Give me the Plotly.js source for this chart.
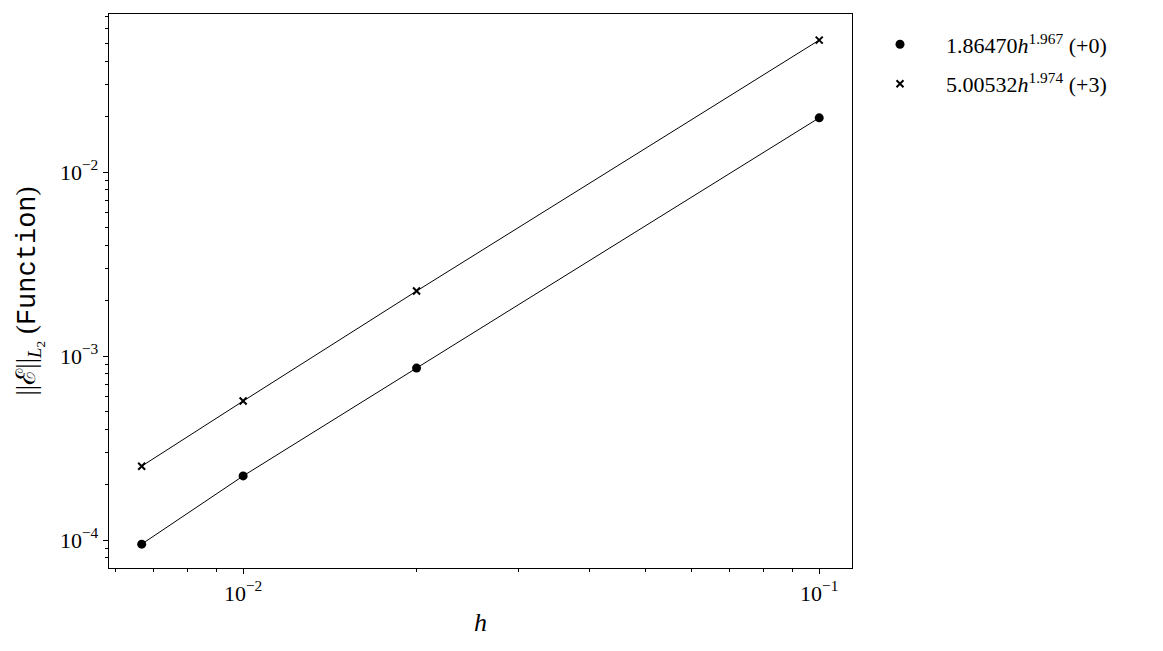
<!DOCTYPE html>
<html>
<head>
<meta charset="utf-8">
<script src="https://cdn.plot.ly/plotly-3.0.1.min.js"></script>
<style>html,body{margin:0;padding:0;background:#fff;}#chart{width:1163px;height:651px;}</style>
</head>
<body>
<div id="chart"></div>
<script>
const h = [0.0066667, 0.01, 0.02, 0.1];
const errA = [9.5e-5, 2.23e-4, 8.6e-4, 0.0197];
const errB = [2.52e-4, 5.69e-4, 2.254e-3, 0.0521];
const nameA = "1.86470<i>h</i><sup>1.967</sup> (+0)";
const nameB = "5.00532<i>h</i><sup>1.974</sup> (+3)";
const xTickVals = [0.01, 0.1];
const xTickText = ["10<sup>−2</sup>", "10<sup>−1</sup>"];
const yTickVals = [1e-4, 1e-3, 1e-2];
const yTickText = ["10<sup>−4</sup>", "10<sup>−3</sup>", "10<sup>−2</sup>"];
const xMinor = [0.006, 0.007, 0.008, 0.009, 0.02, 0.03, 0.04, 0.05, 0.06, 0.07, 0.08, 0.09];
const yMinor = [8e-5, 9e-5, 2e-4, 3e-4, 4e-4, 5e-4, 6e-4, 7e-4, 8e-4, 9e-4,
  2e-3, 3e-3, 4e-3, 5e-3, 6e-3, 7e-3, 8e-3, 9e-3, 2e-2, 3e-2, 4e-2, 5e-2, 6e-2, 7e-2];

const serif = "Liberation Serif, DejaVu Serif, serif";

const traces = [
  {x: h, y: errA, mode: "lines", type: "scatter", showlegend: false,
   line: {color: "#000", width: 1}},
  {x: h, y: errB, mode: "lines", type: "scatter", showlegend: false,
   line: {color: "#000", width: 1}},
  {x: h, y: errA, name: nameA, legendgroup: "a", mode: "markers", type: "scatter",
   marker: {symbol: "circle", size: 9, color: "#000"}},
  {x: h, y: errB, name: nameB, legendgroup: "b", mode: "markers", type: "scatter",
   marker: {symbol: "x-thin-open", size: 7, color: "#000", line: {color: "#000", width: 2}}}
];

function axisBase() {
  return {
    type: "log", showgrid: false, zeroline: false, showline: true, mirror: true,
    linecolor: "#000", linewidth: 1.3, ticks: "outside", ticklen: 5, tickwidth: 1,
    tickcolor: "#000", tickmode: "array",
    tickfont: {family: serif, size: 22, color: "#000"}
  };
}

const xaxis = axisBase();
xaxis.range = [Math.log10(0.00585), Math.log10(0.114)];
xaxis.tickvals = xTickVals;
xaxis.ticktext = xTickText;
xaxis.minor = {tickvals: xMinor, ticks: "outside", ticklen: 3, tickwidth: 1, tickcolor: "#000", showgrid: false};
xaxis.title = {text: "<i>h</i>", font: {family: serif, size: 26, color: "#000"}, standoff: 8};

const yaxis = axisBase();
yaxis.range = [-4.152, -1.1413];
yaxis.tickvals = yTickVals;
yaxis.ticktext = yTickText;
yaxis.minor = {tickvals: yMinor, ticks: "outside", ticklen: 3, tickwidth: 1, tickcolor: "#000", showgrid: false};
yaxis.title = {text: "||<span style=\"font-family:'DejaVu Serif'\">ℰ</span>||<sub><i>L</i><sub>2</sub></sub> (<span style=\"font-family:'Liberation Mono', monospace\">Function</span>)",
               font: {family: serif, size: 27, color: "#000"}, standoff: 16};

const layout = {
  width: 1163, height: 651,
  margin: {l: 109, r: 311, t: 14, b: 83},
  paper_bgcolor: "#fff", plot_bgcolor: "#fff",
  showlegend: true,
  legend: {x: 1.0027, y: 0.983, xanchor: "left", yanchor: "top",
           font: {family: serif, size: 22, color: "#000"}, itemwidth: 82,
           tracegroupgap: 8, bgcolor: "rgba(0,0,0,0)"},
  xaxis: xaxis,
  yaxis: yaxis
};

Plotly.newPlot("chart", traces, layout, {displayModeBar: false, staticPlot: true});
</script>
</body>
</html>
